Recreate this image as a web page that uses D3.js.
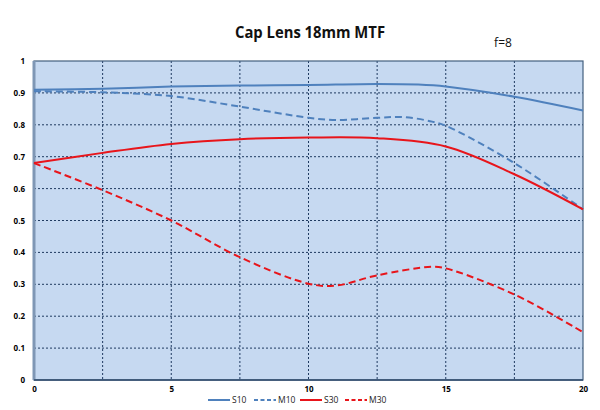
<!DOCTYPE html>
<html>
<head>
<meta charset="utf-8">
<script src="https://cdn.jsdelivr.net/npm/d3@7"></script>
<style>
  body { margin: 0; background: #fff; }
  text { font-family: "Open Sans", "Noto Sans", sans-serif; }
</style>
</head>
<body>
<svg id="chart" width="600" height="410"></svg>
<script>
// values (field position, MTF)
var s10 = [[0, 0.91], [2.5, 0.913], [5, 0.92], [7.5, 0.923], [10, 0.925], [12.5, 0.928], [14, 0.926], [15, 0.92], [17.5, 0.888], [20, 0.845]];
var m10 = [[0, 0.905], [2.5, 0.902], [5, 0.89], [7.5, 0.857], [10, 0.822], [11, 0.815], [12.5, 0.822], [13.5, 0.824], [14.5, 0.81], [15, 0.797], [17.5, 0.68], [20, 0.535]];
var s30 = [[0, 0.68], [2.5, 0.712], [5, 0.74], [7.5, 0.755], [10, 0.76], [12.5, 0.758], [15, 0.732], [17.5, 0.645], [20, 0.535]];
var m30 = [[0, 0.68], [2.5, 0.595], [5, 0.5], [7.5, 0.385], [10, 0.302], [11, 0.296], [12.5, 0.328], [14.5, 0.355], [15, 0.35], [17.5, 0.268], [20, 0.15]];

var seriesNames = ["S10", "M10", "S30", "M30"];
var seriesData = [s10, m10, s30, m30];
var seriesColors = ["#4f81bd", "#4f81bd", "#e8151b", "#e8151b"];
var seriesDash = [null, "7,4", null, "7,4"];

var xTicks = [0, 5, 10, 15, 20];
var xGrid = [2.5, 5, 7.5, 10, 12.5, 15, 17.5];
var yTicks = [0, 0.1, 0.2, 0.3, 0.4, 0.5, 0.6, 0.7, 0.8, 0.9, 1];

var svg = d3.select("#chart");
var pL = 34, pR = 583, pT = 61, pB = 380;

var x = d3.scaleLinear().domain([0, 20]).range([pL, pR]);
var y = d3.scaleLinear().domain([0, 1]).range([pB, pT]);

// plot background
svg.append("rect")
    .attr("x", pL).attr("y", pT)
    .attr("width", pR - pL).attr("height", pB - pT)
    .attr("fill", "#c6d9f1");

// grid
svg.selectAll(".hg").data(yTicks.slice(1, -1)).enter().append("line")
    .attr("x1", pL).attr("x2", pR)
    .attr("y1", function(d) { return y(d); }).attr("y2", function(d) { return y(d); })
    .attr("stroke", "#1f3a60").attr("stroke-width", 1).attr("stroke-dasharray", "2,2");
svg.selectAll(".vg").data(xGrid).enter().append("line")
    .attr("y1", pT).attr("y2", pB)
    .attr("x1", function(d) { return x(d); }).attr("x2", function(d) { return x(d); })
    .attr("stroke", "#1f3a60").attr("stroke-width", 1).attr("stroke-dasharray", "2,2");

// border
svg.append("rect")
    .attr("x", pL).attr("y", pT)
    .attr("width", pR - pL).attr("height", pB - pT)
    .attr("fill", "none").attr("stroke", "#44607f").attr("stroke-width", 1.2);
svg.append("line").attr("x1", pL).attr("x2", pL).attr("y1", pT).attr("y2", pB)
    .attr("stroke", "#7f97b5").attr("stroke-width", 3);

// axes
var xAxis = svg.append("g").attr("transform", "translate(0," + pB + ")")
    .call(d3.axisBottom(x).tickValues(xTicks).tickSize(0).tickPadding(6).tickFormat(d3.format("d")));
var yAxis = svg.append("g").attr("transform", "translate(" + pL + ",0)")
    .call(d3.axisLeft(y).tickValues(yTicks).tickSize(0).tickPadding(9).tickFormat(function(d) { return d === 0 || d === 1 ? d : d3.format(".1f")(d); }));
[xAxis, yAxis].forEach(function(a) {
    a.select(".domain").remove();
    a.selectAll("text").attr("font-size", 8).attr("fill", "#000").attr("font-weight", "bold")
        .style("font-family", "'Open Sans', sans-serif");
});
svg.append("line").attr("x1", pL).attr("x2", pR).attr("y1", pB).attr("y2", pB)
    .attr("stroke", "#2e4a6b").attr("stroke-width", 1.5);

// lines
var line = d3.line()
    .x(function(d) { return x(d[0]); })
    .y(function(d) { return y(d[1]); })
    .curve(d3.curveCatmullRom.alpha(0.5));

seriesData.forEach(function(d, i) {
    svg.append("path").datum(d)
        .attr("d", line)
        .attr("fill", "none")
        .attr("stroke", seriesColors[i])
        .attr("stroke-width", 2)
        .attr("stroke-dasharray", seriesDash[i]);
});

// title
svg.append("text").attr("x", 310).attr("y", 38).attr("text-anchor", "middle")
    .attr("font-size", 16).attr("font-weight", "bold").attr("fill", "#111")
    .attr("textLength", 150).attr("lengthAdjust", "spacingAndGlyphs")
    .text("Cap Lens 18mm MTF");
svg.append("text").attr("x", 503).attr("y", 47).attr("text-anchor", "middle")
    .attr("font-size", 12).attr("fill", "#111")
    .text("f=8");

// legend
var legX = [208, 254, 300, 345];
seriesNames.forEach(function(n, i) {
    var g = svg.append("g").attr("transform", "translate(" + legX[i] + ",400)");
    g.append("line").attr("x1", 0).attr("x2", 22).attr("y1", 0).attr("y2", 0)
        .attr("stroke", seriesColors[i]).attr("stroke-width", 2)
        .attr("stroke-dasharray", i % 2 ? "4,2.5" : null);
    g.append("text").attr("x", 24).attr("y", 3).attr("font-size", 8.5).attr("fill", "#222")
        .text(n);
});
</script>
</body>
</html>
